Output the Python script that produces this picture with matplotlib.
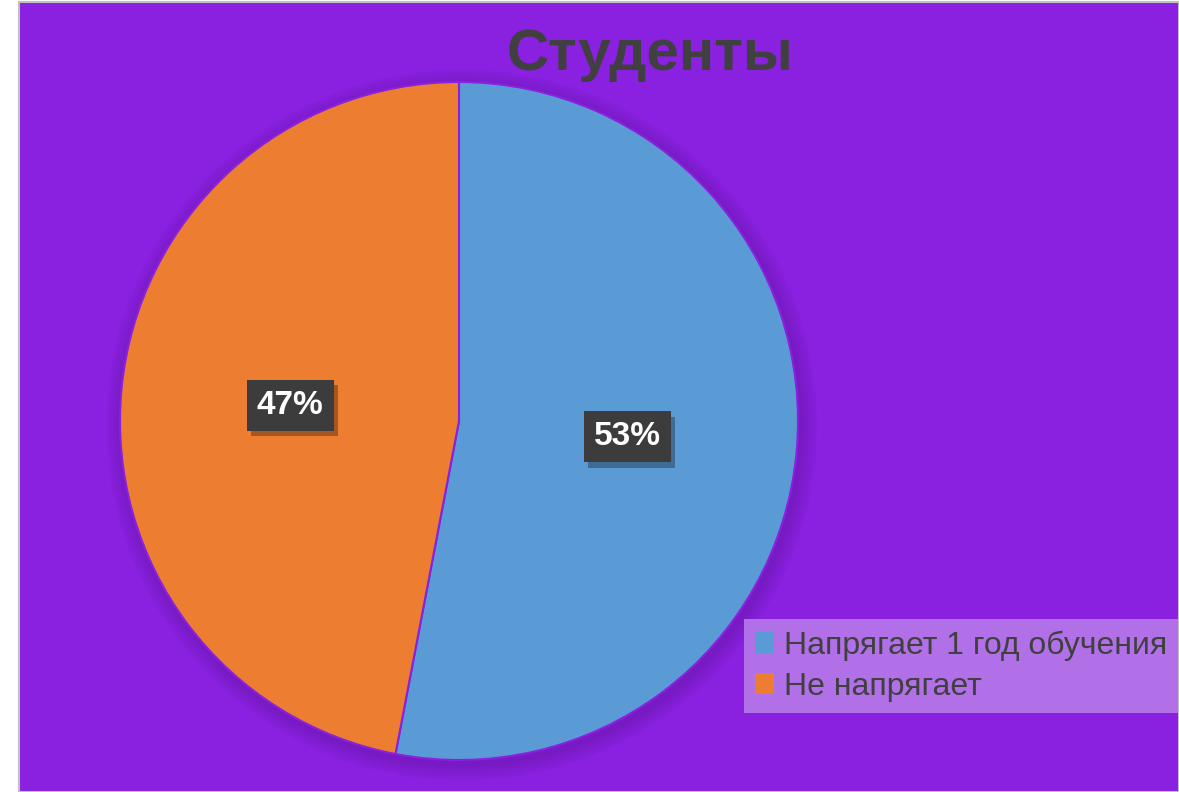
import matplotlib
matplotlib.use("Agg")
import numpy as np
import matplotlib.pyplot as plt
import matplotlib.patheffects as pe
from matplotlib.patches import Rectangle, Circle

plt.rcParams['font.family'] = ['Liberation Sans', 'DejaVu Sans']

# data
title = "Студенты"
categories = ["Напрягает 1 год обучения", "Не напрягает"]
values = [53, 47]
colors = ["#5B9BD5", "#ED7D31"]

bg = "#8A20E0"
legend_bg = "#B16FE8"
text_dark = "#404040"

fig = plt.figure(figsize=(11.79, 7.92), dpi=100)
fig.patch.set_facecolor("white")

# purple chart area with a thin grey frame, white strip on the left
fig.patches.append(Rectangle((19 / 1179, 0), 1 - 19 / 1179, 1 - 1.5 / 792,
                             transform=fig.transFigure, facecolor=bg,
                             edgecolor="#C0C0C0", linewidth=1.5, zorder=-10))

# pie axes: centre at (459, 421) px, radius 339 px
cx, cy, r = 459, 421, 339
ax = fig.add_axes([(cx - r) / 1179, 1 - (cy + r) / 792, 2 * r / 1179, 2 * r / 792])
ax.set_zorder(1)

# soft shadow under the pie
for i in range(6):
    ax.add_patch(Circle((0.008, -0.012), 1.0 + 0.008 * (6 - i), color="#3a0a6a",
                        alpha=0.04, zorder=0, linewidth=0, clip_on=False))

wedges, _ = ax.pie(values, colors=colors, startangle=90, counterclock=False,
                   radius=1.0, wedgeprops=dict(edgecolor=bg, linewidth=1.5),
                   frame=False)
for w in wedges:
    w.set_clip_on(False)
ax.set_xlim(-1, 1)
ax.set_ylim(-1, 1)
ax.axis("off")

# percentage labels in dark boxes
total = sum(values)
start = 90.0
for w, v in zip(wedges, values):
    ang = start - 360 * v / total / 2
    start -= 360 * v / total
    x = 0.5 * np.cos(np.radians(ang))
    y = 0.5 * np.sin(np.radians(ang))
    t = ax.text(x, y, f"{v}%", ha="center", va="center", fontsize=24,
                fontweight="bold", color="white",
                bbox=dict(boxstyle="square,pad=0.3", facecolor="#3C3C3C",
                          edgecolor="none"), zorder=5)
    t.get_bbox_patch().set_path_effects([
        pe.SimplePatchShadow(offset=(3, -4), shadow_rgbFace="black", alpha=0.3),
        pe.Normal()])

fig.text(650 / 1179, 1 - 55 / 792, title, ha="center", va="center",
         fontsize=42, fontweight="bold", color=text_dark)

# legend
handles = [Rectangle((0, 0), 1, 1, facecolor=c, edgecolor="none") for c in colors]
leg = fig.legend(handles, categories, loc="lower right",
                 bbox_to_anchor=(1178 / 1179, 1 - 713 / 792),
                 fontsize=23, frameon=True, fancybox=False,
                 handlelength=0.6, handleheight=0.6, handletextpad=0.3,
                 labelspacing=0.35, borderpad=0.35, borderaxespad=0)
leg.get_frame().set_facecolor(legend_bg)
leg.get_frame().set_edgecolor("none")
leg.get_frame().set_alpha(1)
for t in leg.get_texts():
    t.set_color(text_dark)

fig.savefig("out.png", dpi=100, facecolor=fig.get_facecolor())
